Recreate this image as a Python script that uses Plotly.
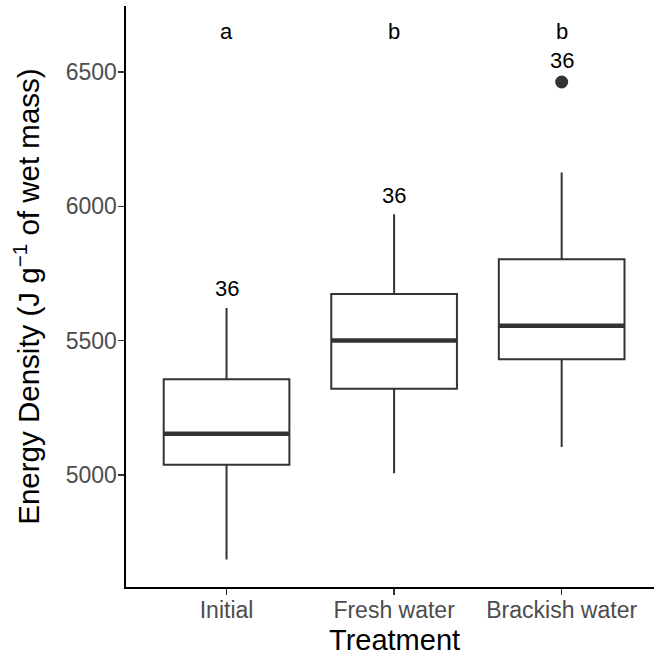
import plotly.graph_objects as go

# ---- data ----
categories = ["Initial", "Fresh water", "Brackish water"]
lower_whisker = [4684, 5006, 5103]
q1 = [5037, 5320, 5430]
median = [5153, 5500, 5555]
q3 = [5356, 5673, 5803]
upper_whisker = [5621, 5970, 6126]
outlier_cat = ["Brackish water"]
outlier_val = [6463]
n_labels = ["36", "36", "36"]
n_label_y = [5692, 6042, 6544]
group_letters = ["a", "b", "b"]
letter_y = [6650, 6650, 6650]
y_ticks = [5000, 5500, 6000, 6500]

# ---- style ----
FONT = "Liberation Sans, Arial, sans-serif"
LINE = "#333333"
BOX_W = 0.75
pos = list(range(len(categories)))
cat_pos = {c: i for i, c in enumerate(categories)}

fig = go.Figure()

fig.add_trace(go.Box(
    x=pos, q1=q1, median=median, q3=q3,
    lowerfence=lower_whisker, upperfence=upper_whisker,
    width=BOX_W, fillcolor="white",
    line=dict(color=LINE, width=2), boxpoints=False,
    whiskerwidth=0, showlegend=False, hoverinfo="skip"))

# thicker median bars (ggplot fatten)
for i, m in zip(pos, median):
    fig.add_trace(go.Scatter(
        x=[i - BOX_W / 2, i + BOX_W / 2], y=[m, m], mode="lines",
        line=dict(color=LINE, width=4.5), showlegend=False, hoverinfo="skip"))

# outliers
fig.add_trace(go.Scatter(
    x=[cat_pos[c] for c in outlier_cat], y=outlier_val, mode="markers",
    marker=dict(color=LINE, size=13, line=dict(width=0)),
    showlegend=False, hoverinfo="skip"))

annotations = []
for i, (t, yv) in enumerate(zip(n_labels, n_label_y)):
    annotations.append(dict(x=i, y=yv, xref="x", yref="y", text=t, showarrow=False,
                            font=dict(family=FONT, size=22, color="black"),
                            xanchor="center", yanchor="middle"))
for i, (t, yv) in enumerate(zip(group_letters, letter_y)):
    annotations.append(dict(x=i, y=yv, xref="x", yref="y", text=t, showarrow=False,
                            font=dict(family=FONT, size=22, color="black"),
                            xanchor="center", yanchor="middle"))

# axis titles
annotations.append(dict(x=0.5076, y=-0.092, xref="paper", yref="paper", text="Treatment",
                        showarrow=False, font=dict(family=FONT, size=29, color="black"),
                        xanchor="center", yanchor="middle"))
annotations.append(dict(x=-0.189, y=0.5, xref="paper", yref="paper",
                        text="Energy Density (J g<sup>\u22121</sup> of wet mass)",
                        textangle=-90, showarrow=False,
                        font=dict(family=FONT, size=29.5, color="black"),
                        xanchor="center", yanchor="middle"))

fig.update_layout(
    width=654, height=662,
    margin=dict(l=126, r=0, t=6, b=75),
    paper_bgcolor="white", plot_bgcolor="white",
    font=dict(family=FONT),
    annotations=annotations,
    showlegend=False,
    hovermode=False,
    xaxis=dict(
        range=[-0.6, 2.551], tickvals=pos, ticktext=categories,
        showline=True, linecolor="black", linewidth=1.6,
        ticks="outside", ticklen=6, tickwidth=1.5, tickcolor=LINE,
        tickfont=dict(family=FONT, size=23, color="#4D4D4D"),
        showgrid=False, zeroline=False, ticklabelstandoff=-4),
    yaxis=dict(
        range=[4582, 6746], tickvals=y_ticks,
        showline=True, linecolor="black", linewidth=1.6,
        ticks="outside", ticklen=6, tickwidth=1.5, tickcolor=LINE,
        tickfont=dict(family=FONT, size=23, color="#4D4D4D"),
        showgrid=False, zeroline=False, ticklabelstandoff=-3),
)

fig.write_html("out.html", config={"displayModeBar": False, "staticPlot": True},
               post_script="document.body.style.margin='0';document.body.style.overflow='hidden';")
